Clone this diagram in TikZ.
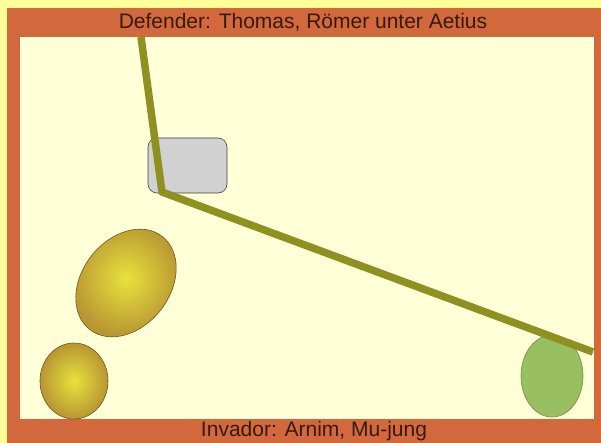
\documentclass[tikz,border=0pt]{standalone}
\usepackage{fontspec}
\setmainfont{Liberation Sans}
\usetikzlibrary{shapes.geometric}
\definecolor{outerbg}{HTML}{FFFF99}
\definecolor{framec}{HTML}{D2693C}
\definecolor{innerc}{HTML}{FFFFD8}
\definecolor{textc}{HTML}{3A1A0A}
\definecolor{linec}{HTML}{8E9020}
\definecolor{goldin}{HTML}{E8E23E}
\definecolor{goldout}{HTML}{B89632}
\definecolor{greenf}{HTML}{98C060}
\definecolor{greend}{HTML}{6E8E40}
\tikzset{
  title/.style={text=textc, font=\fontsize{21}{25}\selectfont, inner sep=0pt},
  army/.style={ellipse, draw=goldout!60!black, line width=0.6pt, shading=radial, inner color=goldin, outer color=goldout, inner sep=0pt},
  enemy/.style={ellipse, draw=greend, fill=greenf, line width=0.6pt, inner sep=0pt},
  hill/.style={rectangle, rounded corners=9pt, draw=black!75, fill=black!18, line width=0.6pt, inner sep=0pt},
  road/.style={draw=linec, line width=7.5pt, line join=round}
}
\begin{document}
\begin{tikzpicture}[x=1pt,y=-1pt]
\useasboundingbox (0,0) rectangle (601,443);
\fill[outerbg] (0,0) rectangle (601,443);
\fill[framec] (7,8) rectangle (601,443);
\fill[innerc] (20,37) rectangle (594,419);
\node[army, minimum width=118pt, minimum height=88pt, rotate=52] (big) at (126,283) {};
\node[army, minimum width=68pt, minimum height=76pt] (small) at (74,381) {};
\node[enemy, minimum width=62pt, minimum height=82pt] (green) at (552,376) {};
\node[hill, minimum width=79pt, minimum height=55pt] (box) at (187.5,165.5) {};
\coordinate (rtop) at (141,37);
\coordinate (rbend) at (162,192);
\coordinate (rend) at (593,352);
\begin{scope}
\clip (20,37) rectangle (594,419);
\draw[road] (rtop) -- (rbend) -- (rend);
\end{scope}
\node[title] (def) at (303,22) {Defender: Thomas, Römer unter Aetius};
\node[title] (inv) at (314,431) {Invador: Arnim, Mu-jung};
\end{tikzpicture}
\end{document}
